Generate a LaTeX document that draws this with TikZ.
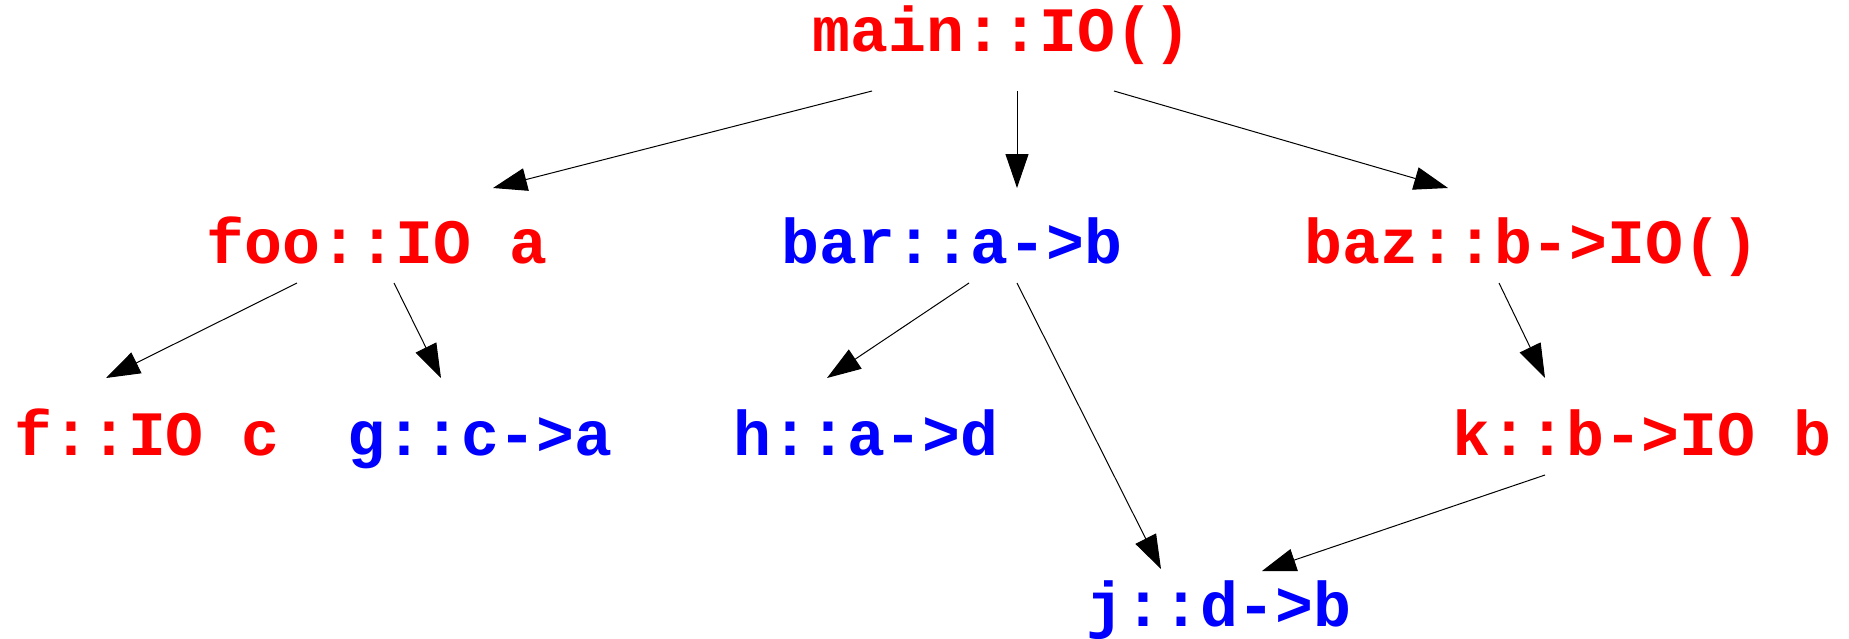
\documentclass[tikz,border=0pt]{standalone}
\usepackage{fontspec}
\setmonofont{Liberation Mono}
\usetikzlibrary{arrows.meta}
\definecolor{fnred}{RGB}{255,0,0}
\definecolor{fnblue}{RGB}{0,0,255}
\begin{document}
\begin{tikzpicture}[x=0.5pt,y=-0.5pt,
  fn/.style={inner sep=0pt,anchor=base,
    font=\ttfamily\bfseries\fontsize{31.6}{38}\selectfont},
  io/.style={fn,text=fnred},
  pure/.style={fn,text=fnblue},
  call/.style={line width=0.5pt,-{Triangle[length=17pt,width=11.5pt]}}]
\useasboundingbox (0,0) rectangle (1849,638);

% call graph nodes, placed on their baselines
\node[io]   (main) at (1002,51)  {main::IO()};
\node[io]   (foo)  at (377,263)  {foo::IO a};
\node[pure] (bar)  at (952,263)  {bar::a->b};
\node[io]   (baz)  at (1532,263) {baz::b->IO()};
\node[io]   (f)    at (147,455)  {f::IO c};
\node[pure] (g)    at (480,455)  {g::c->a};
\node[pure] (h)    at (866,455)  {h::a->d};
\node[io]   (k)    at (1642,455) {k::b->IO b};
\node[pure] (j)    at (1219,626) {j::d->b};

% calls
\draw[call] ([shift={(-130,40)}]main.base) -- ([shift={(116,-75)}]foo.base);
\draw[call] ([shift={(15,40)}]main.base)   -- ([shift={(65,-75)}]bar.base);
\draw[call] ([shift={(112,40)}]main.base)  -- ([shift={(-84,-75)}]baz.base);
\draw[call] ([shift={(-80,20)}]foo.base)   -- ([shift={(-41,-77)}]f.base);
\draw[call] ([shift={(17,20)}]foo.base)    -- ([shift={(-39,-77)}]g.base);
\draw[call] ([shift={(17,20)}]bar.base)    -- ([shift={(-39,-77)}]h.base);
\draw[call] ([shift={(65,20)}]bar.base)    -- ([shift={(-58,-57)}]j.base);
\draw[call] ([shift={(-33,20)}]baz.base)   -- ([shift={(-97,-77)}]k.base);
\draw[call] ([shift={(-97,20)}]k.base)     -- ([shift={(43,-55)}]j.base);
\end{tikzpicture}
\end{document}
